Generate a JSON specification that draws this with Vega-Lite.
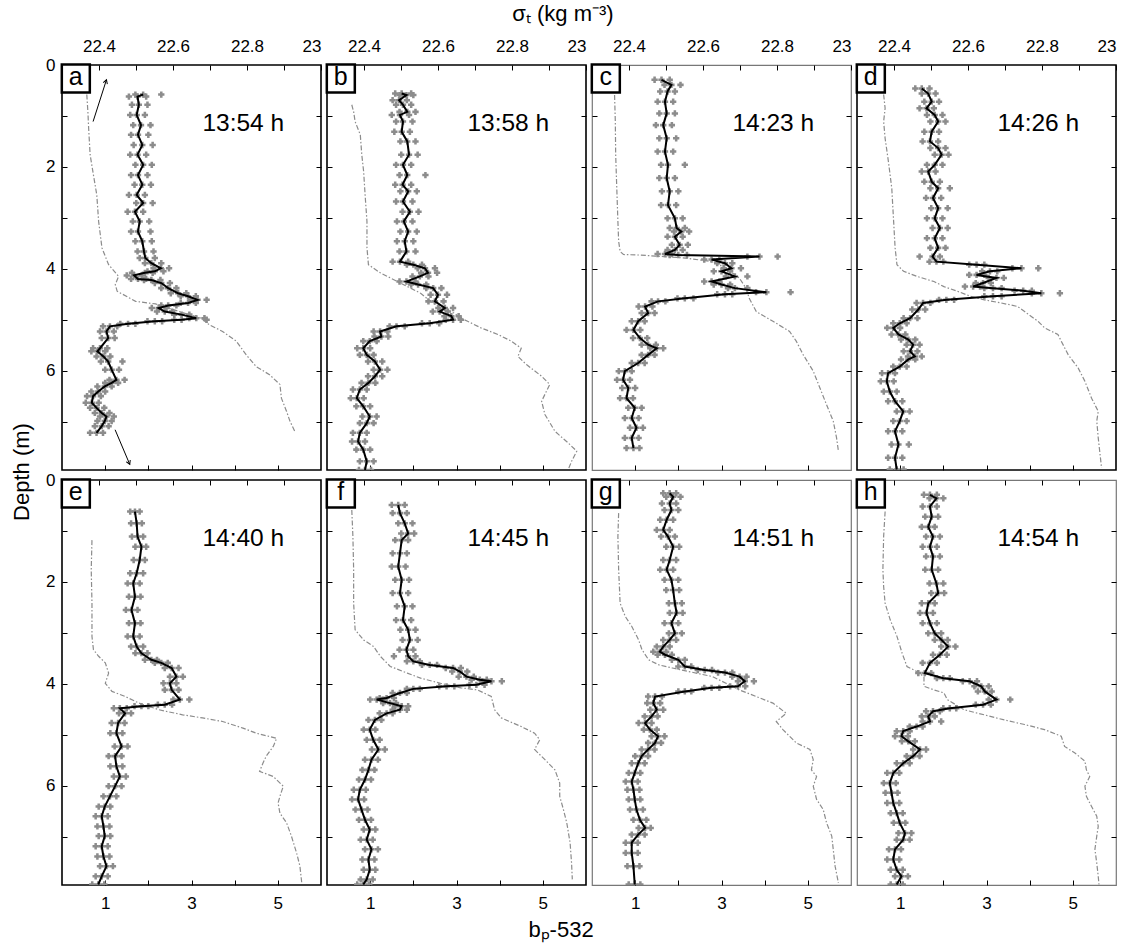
{
"$schema": "https://vega.github.io/schema/vega-lite/v6.json",
"background": "white",
"padding": {"left": 10, "top": 3, "right": 5, "bottom": 3},
"config": {
 "font": "Liberation Sans",
 "axis": {"tickSize": -5, "tickColor": "black", "tickWidth": 1, "domain": false, "grid": false, "labelFont": "Liberation Sans", "labelFontSize": 17, "labelColor": "black", "labelPadding": 13, "labelOverlap": false},
 "title": {"font": "Liberation Sans", "fontSize": 22, "fontWeight": "normal", "color": "black"},
 "view": {"stroke": "black", "strokeWidth": 1.6}
},
"datasets": {
 "lab": [{"p":"a","t":"13:54 h"},{"p":"b","t":"13:58 h"},{"p":"c","t":"14:23 h"},{"p":"d","t":"14:26 h"},{"p":"e","t":"14:40 h"},{"p":"f","t":"14:45 h"},{"p":"g","t":"14:51 h"},{"p":"h","t":"14:54 h"}],
 "arr": [{"x1":0.72,"y1":1.11,"x2":1.03,"y2":0.29,"ang":18},{"x1":1.23,"y1":7.16,"x2":1.57,"y2":7.84,"ang":157}],
 "bp": [
{"p":"a","d":0.58,"b":1.88,"l":1.70,"h":2.30},{"p":"a","d":0.62,"b":1.75,"l":1.55,"h":1.95},{"p":"a","d":0.78,"b":1.78,"l":1.62,"h":1.98},{"p":"a","d":0.98,"b":1.73,"l":1.58,"h":1.92},{"p":"a","d":1.18,"b":1.83,"l":1.65,"h":2.05},{"p":"a","d":1.37,"b":1.76,"l":1.60,"h":2.00},{"p":"a","d":1.57,"b":1.86,"l":1.66,"h":2.10},{"p":"a","d":1.76,"b":1.75,"l":1.58,"h":1.95},{"p":"a","d":1.96,"b":1.88,"l":1.70,"h":2.08},{"p":"a","d":2.16,"b":1.76,"l":1.60,"h":1.98},{"p":"a","d":2.35,"b":1.86,"l":1.68,"h":2.06},{"p":"a","d":2.55,"b":1.73,"l":1.55,"h":1.92},{"p":"a","d":2.71,"b":1.88,"l":1.72,"h":2.10},{"p":"a","d":2.88,"b":1.69,"l":1.52,"h":1.88},{"p":"a","d":3.07,"b":1.80,"l":1.64,"h":2.02},{"p":"a","d":3.27,"b":1.76,"l":1.60,"h":2.05},{"p":"a","d":3.46,"b":1.86,"l":1.70,"h":2.08},{"p":"a","d":3.66,"b":1.90,"l":1.75,"h":2.12},{"p":"a","d":3.79,"b":1.93,"l":1.80,"h":2.15},{"p":"a","d":3.89,"b":2.07,"l":1.92,"h":2.30},{"p":"a","d":3.99,"b":2.29,"l":2.12,"h":2.48},{"p":"a","d":4.05,"b":2.15,"l":1.98,"h":2.35},{"p":"a","d":4.08,"b":1.92,"l":1.62,"h":2.10},{"p":"a","d":4.13,"b":1.67,"l":1.50,"h":1.85},{"p":"a","d":4.20,"b":1.76,"l":1.60,"h":1.95},{"p":"a","d":4.22,"b":2.07,"l":1.90,"h":2.28},{"p":"a","d":4.28,"b":2.30,"l":2.15,"h":2.50},{"p":"a","d":4.38,"b":2.46,"l":2.30,"h":2.65},{"p":"a","d":4.48,"b":2.69,"l":2.52,"h":2.88},{"p":"a","d":4.54,"b":2.92,"l":2.75,"h":3.10},{"p":"a","d":4.61,"b":3.14,"l":2.98,"h":3.35},{"p":"a","d":4.67,"b":2.92,"l":2.75,"h":3.10},{"p":"a","d":4.72,"b":2.46,"l":2.30,"h":2.65},{"p":"a","d":4.77,"b":2.24,"l":2.08,"h":2.42},{"p":"a","d":4.84,"b":2.38,"l":2.20,"h":2.55},{"p":"a","d":4.90,"b":2.77,"l":2.60,"h":2.95},{"p":"a","d":4.97,"b":3.11,"l":2.95,"h":3.30},{"p":"a","d":5.00,"b":2.77,"l":2.60,"h":3.35},{"p":"a","d":5.03,"b":2.15,"l":1.98,"h":2.32},{"p":"a","d":5.08,"b":1.53,"l":1.35,"h":1.70},{"p":"a","d":5.13,"b":1.11,"l":0.95,"h":1.28},{"p":"a","d":5.23,"b":1.03,"l":0.88,"h":1.20},{"p":"a","d":5.36,"b":1.07,"l":0.92,"h":1.22},{"p":"a","d":5.56,"b":0.88,"l":0.72,"h":1.05},{"p":"a","d":5.62,"b":0.82,"l":0.68,"h":1.00},{"p":"a","d":5.72,"b":0.96,"l":0.80,"h":1.12},{"p":"a","d":5.82,"b":1.07,"l":0.90,"h":1.40},{"p":"a","d":5.98,"b":1.15,"l":1.00,"h":1.32},{"p":"a","d":6.18,"b":1.26,"l":1.10,"h":1.45},{"p":"a","d":6.24,"b":1.15,"l":1.00,"h":1.30},{"p":"a","d":6.31,"b":0.99,"l":0.82,"h":1.15},{"p":"a","d":6.41,"b":0.84,"l":0.68,"h":1.00},{"p":"a","d":6.50,"b":0.72,"l":0.58,"h":0.90},{"p":"a","d":6.63,"b":0.69,"l":0.55,"h":0.85},{"p":"a","d":6.73,"b":0.80,"l":0.65,"h":0.98},{"p":"a","d":6.83,"b":0.92,"l":0.76,"h":1.10},{"p":"a","d":6.90,"b":1.03,"l":0.88,"h":1.20},{"p":"a","d":6.99,"b":0.99,"l":0.82,"h":1.15},{"p":"a","d":7.09,"b":0.92,"l":0.76,"h":1.08},{"p":"a","d":7.22,"b":0.80,"l":0.65,"h":0.95},
{"p":"b","d":0.56,"b":1.73,"l":1.58,"h":1.95},{"p":"b","d":0.59,"b":1.84,"l":1.68,"h":2.00},{"p":"b","d":0.69,"b":1.67,"l":1.52,"h":1.85},{"p":"b","d":0.78,"b":1.76,"l":1.60,"h":1.95},{"p":"b","d":0.92,"b":1.86,"l":1.68,"h":2.05},{"p":"b","d":0.98,"b":1.69,"l":1.50,"h":1.90},{"p":"b","d":1.11,"b":1.76,"l":1.60,"h":1.98},{"p":"b","d":1.31,"b":1.73,"l":1.56,"h":1.92},{"p":"b","d":1.50,"b":1.86,"l":1.70,"h":2.05},{"p":"b","d":1.76,"b":1.90,"l":1.72,"h":2.10},{"p":"b","d":1.96,"b":1.76,"l":1.60,"h":1.95},{"p":"b","d":2.16,"b":1.86,"l":1.68,"h":2.28},{"p":"b","d":2.35,"b":1.75,"l":1.58,"h":1.95},{"p":"b","d":2.48,"b":1.88,"l":1.70,"h":2.08},{"p":"b","d":2.68,"b":1.76,"l":1.60,"h":1.98},{"p":"b","d":2.88,"b":1.92,"l":1.75,"h":2.12},{"p":"b","d":3.07,"b":1.78,"l":1.62,"h":1.98},{"p":"b","d":3.27,"b":1.88,"l":1.70,"h":2.08},{"p":"b","d":3.46,"b":1.80,"l":1.62,"h":2.00},{"p":"b","d":3.66,"b":1.84,"l":1.68,"h":2.05},{"p":"b","d":3.86,"b":1.69,"l":1.52,"h":1.88},{"p":"b","d":3.92,"b":2.00,"l":1.85,"h":2.20},{"p":"b","d":3.99,"b":2.27,"l":2.10,"h":2.50},{"p":"b","d":4.08,"b":2.34,"l":2.18,"h":2.55},{"p":"b","d":4.15,"b":2.15,"l":1.98,"h":2.35},{"p":"b","d":4.25,"b":1.84,"l":1.68,"h":2.05},{"p":"b","d":4.31,"b":2.11,"l":1.95,"h":2.30},{"p":"b","d":4.38,"b":2.46,"l":2.30,"h":2.65},{"p":"b","d":4.51,"b":2.57,"l":2.40,"h":2.78},{"p":"b","d":4.64,"b":2.50,"l":2.35,"h":2.70},{"p":"b","d":4.77,"b":2.73,"l":2.58,"h":2.92},{"p":"b","d":4.84,"b":2.61,"l":2.45,"h":2.80},{"p":"b","d":4.93,"b":2.88,"l":2.72,"h":3.05},{"p":"b","d":5.00,"b":2.92,"l":2.75,"h":3.10},{"p":"b","d":5.07,"b":2.38,"l":2.20,"h":2.60},{"p":"b","d":5.13,"b":1.61,"l":1.45,"h":1.80},{"p":"b","d":5.23,"b":1.23,"l":1.08,"h":1.40},{"p":"b","d":5.33,"b":1.26,"l":1.10,"h":1.42},{"p":"b","d":5.42,"b":0.99,"l":0.84,"h":1.15},{"p":"b","d":5.56,"b":0.84,"l":0.70,"h":1.00},{"p":"b","d":5.69,"b":0.92,"l":0.76,"h":1.08},{"p":"b","d":5.82,"b":1.11,"l":0.95,"h":1.28},{"p":"b","d":5.98,"b":1.23,"l":1.08,"h":1.40},{"p":"b","d":6.11,"b":1.11,"l":0.95,"h":1.28},{"p":"b","d":6.24,"b":0.96,"l":0.80,"h":1.12},{"p":"b","d":6.37,"b":0.76,"l":0.60,"h":0.92},{"p":"b","d":6.54,"b":0.69,"l":0.55,"h":0.85},{"p":"b","d":6.70,"b":0.84,"l":0.68,"h":1.00},{"p":"b","d":6.90,"b":0.99,"l":0.82,"h":1.15},{"p":"b","d":7.03,"b":0.92,"l":0.76,"h":1.08},{"p":"b","d":7.22,"b":0.76,"l":0.60,"h":0.92},{"p":"b","d":7.39,"b":0.72,"l":0.58,"h":0.88},{"p":"b","d":7.55,"b":0.84,"l":0.68,"h":1.00},{"p":"b","d":7.78,"b":0.92,"l":0.76,"h":1.08},{"p":"b","d":7.95,"b":0.88,"l":0.74,"h":1.02},
{"p":"c","d":0.29,"b":1.61,"l":1.45,"h":1.80},{"p":"c","d":0.39,"b":1.84,"l":1.68,"h":2.05},{"p":"c","d":0.52,"b":1.75,"l":1.58,"h":1.92},{"p":"c","d":0.72,"b":1.69,"l":1.52,"h":1.88},{"p":"c","d":0.95,"b":1.73,"l":1.56,"h":1.92},{"p":"c","d":1.18,"b":1.65,"l":1.48,"h":1.85},{"p":"c","d":1.44,"b":1.73,"l":1.56,"h":1.95},{"p":"c","d":1.70,"b":1.69,"l":1.52,"h":1.88},{"p":"c","d":1.96,"b":1.76,"l":1.60,"h":2.15},{"p":"c","d":2.22,"b":1.73,"l":1.56,"h":1.92},{"p":"c","d":2.48,"b":1.80,"l":1.62,"h":2.00},{"p":"c","d":2.75,"b":1.76,"l":1.60,"h":1.95},{"p":"c","d":3.01,"b":1.92,"l":1.75,"h":2.10},{"p":"c","d":3.20,"b":1.96,"l":1.80,"h":2.15},{"p":"c","d":3.27,"b":2.07,"l":1.90,"h":2.25},{"p":"c","d":3.37,"b":1.92,"l":1.75,"h":2.10},{"p":"c","d":3.53,"b":2.03,"l":1.85,"h":2.22},{"p":"c","d":3.63,"b":1.92,"l":1.75,"h":2.10},{"p":"c","d":3.71,"b":1.69,"l":1.52,"h":1.85},{"p":"c","d":3.73,"b":2.00,"l":1.80,"h":2.20},{"p":"c","d":3.76,"b":3.88,"l":3.60,"h":4.30},{"p":"c","d":3.82,"b":2.77,"l":2.60,"h":2.95},{"p":"c","d":3.89,"b":3.08,"l":2.90,"h":3.25},{"p":"c","d":3.99,"b":3.23,"l":3.05,"h":3.45},{"p":"c","d":4.05,"b":3.00,"l":2.82,"h":3.20},{"p":"c","d":4.15,"b":3.31,"l":3.10,"h":3.60},{"p":"c","d":4.25,"b":2.77,"l":2.60,"h":2.95},{"p":"c","d":4.31,"b":3.00,"l":2.82,"h":3.20},{"p":"c","d":4.38,"b":3.31,"l":3.15,"h":3.60},{"p":"c","d":4.46,"b":4.04,"l":3.80,"h":4.60},{"p":"c","d":4.50,"b":3.08,"l":2.90,"h":3.25},{"p":"c","d":4.58,"b":2.15,"l":1.98,"h":2.35},{"p":"c","d":4.64,"b":1.53,"l":1.38,"h":1.70},{"p":"c","d":4.74,"b":1.23,"l":1.08,"h":1.40},{"p":"c","d":4.87,"b":1.30,"l":1.15,"h":1.45},{"p":"c","d":5.03,"b":1.07,"l":0.92,"h":1.22},{"p":"c","d":5.20,"b":0.96,"l":0.80,"h":1.12},{"p":"c","d":5.36,"b":1.11,"l":0.95,"h":1.28},{"p":"c","d":5.49,"b":1.30,"l":1.15,"h":1.48},{"p":"c","d":5.56,"b":1.50,"l":1.35,"h":1.65},{"p":"c","d":5.69,"b":1.30,"l":1.15,"h":1.45},{"p":"c","d":5.85,"b":1.07,"l":0.92,"h":1.22},{"p":"c","d":6.01,"b":0.76,"l":0.62,"h":0.92},{"p":"c","d":6.18,"b":0.72,"l":0.58,"h":0.88},{"p":"c","d":6.34,"b":0.84,"l":0.70,"h":1.00},{"p":"c","d":6.54,"b":0.80,"l":0.65,"h":0.95},{"p":"c","d":6.73,"b":0.99,"l":0.84,"h":1.15},{"p":"c","d":6.93,"b":0.92,"l":0.76,"h":1.08},{"p":"c","d":7.12,"b":1.03,"l":0.88,"h":1.18},{"p":"c","d":7.32,"b":0.92,"l":0.76,"h":1.08},{"p":"c","d":7.52,"b":0.96,"l":0.80,"h":1.10},
{"p":"d","d":0.46,"b":1.50,"l":1.35,"h":1.68},{"p":"d","d":0.56,"b":1.65,"l":1.50,"h":1.82},{"p":"d","d":0.72,"b":1.73,"l":1.56,"h":1.90},{"p":"d","d":0.85,"b":1.61,"l":1.45,"h":1.78},{"p":"d","d":0.98,"b":1.80,"l":1.62,"h":1.98},{"p":"d","d":1.11,"b":1.88,"l":1.70,"h":2.05},{"p":"d","d":1.31,"b":1.73,"l":1.56,"h":1.90},{"p":"d","d":1.50,"b":1.69,"l":1.52,"h":1.88},{"p":"d","d":1.63,"b":1.88,"l":1.70,"h":2.05},{"p":"d","d":1.76,"b":1.96,"l":1.80,"h":2.12},{"p":"d","d":1.96,"b":1.80,"l":1.62,"h":1.98},{"p":"d","d":2.09,"b":1.65,"l":1.50,"h":1.82},{"p":"d","d":2.29,"b":1.73,"l":1.56,"h":1.92},{"p":"d","d":2.42,"b":1.88,"l":1.70,"h":2.15},{"p":"d","d":2.61,"b":1.76,"l":1.60,"h":1.95},{"p":"d","d":2.81,"b":1.88,"l":1.72,"h":2.10},{"p":"d","d":3.01,"b":1.80,"l":1.62,"h":1.98},{"p":"d","d":3.20,"b":1.92,"l":1.75,"h":2.10},{"p":"d","d":3.40,"b":1.80,"l":1.62,"h":1.98},{"p":"d","d":3.59,"b":1.88,"l":1.70,"h":2.05},{"p":"d","d":3.76,"b":1.75,"l":1.45,"h":1.92},{"p":"d","d":3.86,"b":1.84,"l":1.68,"h":2.00},{"p":"d","d":3.92,"b":2.77,"l":2.60,"h":2.95},{"p":"d","d":3.99,"b":3.81,"l":3.60,"h":4.20},{"p":"d","d":4.05,"b":3.08,"l":2.90,"h":3.25},{"p":"d","d":4.12,"b":2.77,"l":2.60,"h":2.95},{"p":"d","d":4.18,"b":3.23,"l":3.05,"h":3.40},{"p":"d","d":4.28,"b":2.92,"l":2.75,"h":3.10},{"p":"d","d":4.35,"b":2.69,"l":2.50,"h":2.85},{"p":"d","d":4.38,"b":3.15,"l":2.95,"h":3.35},{"p":"d","d":4.43,"b":3.85,"l":3.65,"h":4.05},{"p":"d","d":4.48,"b":4.27,"l":4.05,"h":4.70},{"p":"d","d":4.54,"b":3.15,"l":2.95,"h":3.35},{"p":"d","d":4.61,"b":2.07,"l":1.90,"h":2.25},{"p":"d","d":4.67,"b":1.53,"l":1.38,"h":1.70},{"p":"d","d":4.80,"b":1.42,"l":1.28,"h":1.58},{"p":"d","d":4.97,"b":1.23,"l":1.08,"h":1.40},{"p":"d","d":5.07,"b":0.99,"l":0.84,"h":1.15},{"p":"d","d":5.16,"b":0.84,"l":0.70,"h":1.00},{"p":"d","d":5.29,"b":0.96,"l":0.80,"h":1.12},{"p":"d","d":5.39,"b":1.19,"l":1.02,"h":1.35},{"p":"d","d":5.49,"b":1.30,"l":1.15,"h":1.45},{"p":"d","d":5.62,"b":1.23,"l":1.08,"h":1.40},{"p":"d","d":5.72,"b":1.34,"l":1.18,"h":1.50},{"p":"d","d":5.78,"b":1.19,"l":1.02,"h":1.35},{"p":"d","d":5.92,"b":0.99,"l":0.84,"h":1.15},{"p":"d","d":6.05,"b":0.72,"l":0.58,"h":0.88},{"p":"d","d":6.21,"b":0.69,"l":0.55,"h":0.85},{"p":"d","d":6.41,"b":0.76,"l":0.62,"h":0.92},{"p":"d","d":6.60,"b":0.88,"l":0.72,"h":1.05},{"p":"d","d":6.80,"b":1.07,"l":0.92,"h":1.22},{"p":"d","d":6.99,"b":0.99,"l":0.84,"h":1.15},{"p":"d","d":7.19,"b":0.88,"l":0.72,"h":1.05},{"p":"d","d":7.45,"b":0.96,"l":0.80,"h":1.20},{"p":"d","d":7.71,"b":0.88,"l":0.72,"h":1.05},{"p":"d","d":7.94,"b":0.92,"l":0.76,"h":1.08},
{"p":"e","d":0.62,"b":1.69,"l":1.58,"h":1.80},{"p":"e","d":0.85,"b":1.73,"l":1.60,"h":1.85},{"p":"e","d":1.11,"b":1.75,"l":1.62,"h":1.88},{"p":"e","d":1.31,"b":1.84,"l":1.70,"h":1.95},{"p":"e","d":1.57,"b":1.80,"l":1.66,"h":1.92},{"p":"e","d":1.83,"b":1.73,"l":1.58,"h":1.88},{"p":"e","d":2.03,"b":1.65,"l":1.52,"h":1.80},{"p":"e","d":2.29,"b":1.69,"l":1.55,"h":1.82},{"p":"e","d":2.55,"b":1.61,"l":1.48,"h":1.75},{"p":"e","d":2.81,"b":1.69,"l":1.55,"h":1.82},{"p":"e","d":3.07,"b":1.65,"l":1.52,"h":1.80},{"p":"e","d":3.27,"b":1.73,"l":1.60,"h":1.88},{"p":"e","d":3.40,"b":1.84,"l":1.70,"h":1.98},{"p":"e","d":3.53,"b":2.07,"l":1.92,"h":2.20},{"p":"e","d":3.59,"b":2.30,"l":2.15,"h":2.45},{"p":"e","d":3.69,"b":2.54,"l":2.38,"h":2.70},{"p":"e","d":3.86,"b":2.65,"l":2.50,"h":2.80},{"p":"e","d":3.99,"b":2.50,"l":2.35,"h":2.65},{"p":"e","d":4.12,"b":2.54,"l":2.38,"h":2.70},{"p":"e","d":4.31,"b":2.73,"l":2.58,"h":2.95},{"p":"e","d":4.41,"b":2.38,"l":2.22,"h":2.55},{"p":"e","d":4.44,"b":1.84,"l":1.68,"h":2.00},{"p":"e","d":4.48,"b":1.34,"l":1.20,"h":1.50},{"p":"e","d":4.58,"b":1.46,"l":1.32,"h":1.60},{"p":"e","d":4.77,"b":1.30,"l":1.15,"h":1.45},{"p":"e","d":4.97,"b":1.26,"l":1.12,"h":1.40},{"p":"e","d":5.23,"b":1.38,"l":1.22,"h":1.52},{"p":"e","d":5.42,"b":1.23,"l":1.08,"h":1.38},{"p":"e","d":5.62,"b":1.26,"l":1.12,"h":1.40},{"p":"e","d":5.82,"b":1.34,"l":1.20,"h":1.48},{"p":"e","d":6.01,"b":1.23,"l":1.08,"h":1.38},{"p":"e","d":6.21,"b":1.11,"l":0.96,"h":1.26},{"p":"e","d":6.41,"b":0.99,"l":0.85,"h":1.12},{"p":"e","d":6.60,"b":0.92,"l":0.78,"h":1.06},{"p":"e","d":6.80,"b":0.96,"l":0.82,"h":1.10},{"p":"e","d":6.99,"b":0.99,"l":0.85,"h":1.12},{"p":"e","d":7.19,"b":0.92,"l":0.78,"h":1.06},{"p":"e","d":7.39,"b":0.96,"l":0.82,"h":1.10},{"p":"e","d":7.58,"b":1.03,"l":0.88,"h":1.18},{"p":"e","d":7.78,"b":0.92,"l":0.78,"h":1.06},{"p":"e","d":7.94,"b":0.84,"l":0.70,"h":0.98},
{"p":"f","d":0.49,"b":1.65,"l":1.50,"h":1.80},{"p":"f","d":0.65,"b":1.69,"l":1.52,"h":1.85},{"p":"f","d":0.85,"b":1.80,"l":1.65,"h":1.98},{"p":"f","d":1.05,"b":1.88,"l":1.72,"h":2.02},{"p":"f","d":1.18,"b":1.73,"l":1.58,"h":1.88},{"p":"f","d":1.44,"b":1.69,"l":1.52,"h":1.85},{"p":"f","d":1.70,"b":1.65,"l":1.50,"h":1.82},{"p":"f","d":1.96,"b":1.73,"l":1.58,"h":1.90},{"p":"f","d":2.22,"b":1.69,"l":1.52,"h":1.88},{"p":"f","d":2.48,"b":1.80,"l":1.62,"h":1.98},{"p":"f","d":2.75,"b":1.76,"l":1.60,"h":1.95},{"p":"f","d":2.94,"b":1.88,"l":1.70,"h":2.05},{"p":"f","d":3.14,"b":1.92,"l":1.75,"h":2.10},{"p":"f","d":3.33,"b":1.84,"l":1.68,"h":2.00},{"p":"f","d":3.46,"b":1.88,"l":1.55,"h":2.05},{"p":"f","d":3.56,"b":2.00,"l":1.85,"h":2.15},{"p":"f","d":3.63,"b":2.38,"l":2.20,"h":2.55},{"p":"f","d":3.69,"b":2.92,"l":2.75,"h":3.10},{"p":"f","d":3.76,"b":3.08,"l":2.90,"h":3.25},{"p":"f","d":3.86,"b":3.23,"l":3.05,"h":3.40},{"p":"f","d":3.92,"b":3.54,"l":3.35,"h":3.70},{"p":"f","d":3.95,"b":3.81,"l":3.60,"h":4.05},{"p":"f","d":4.02,"b":3.46,"l":3.30,"h":3.65},{"p":"f","d":4.05,"b":2.77,"l":2.60,"h":2.95},{"p":"f","d":4.10,"b":2.00,"l":1.85,"h":2.15},{"p":"f","d":4.18,"b":1.69,"l":1.52,"h":1.85},{"p":"f","d":4.28,"b":1.38,"l":1.22,"h":1.55},{"p":"f","d":4.31,"b":1.15,"l":1.00,"h":1.30},{"p":"f","d":4.38,"b":1.46,"l":1.30,"h":1.60},{"p":"f","d":4.44,"b":1.73,"l":1.58,"h":1.88},{"p":"f","d":4.51,"b":1.69,"l":1.52,"h":1.85},{"p":"f","d":4.58,"b":1.38,"l":1.22,"h":1.52},{"p":"f","d":4.71,"b":1.11,"l":0.96,"h":1.26},{"p":"f","d":4.90,"b":0.99,"l":0.85,"h":1.12},{"p":"f","d":5.10,"b":1.07,"l":0.92,"h":1.22},{"p":"f","d":5.29,"b":1.19,"l":1.04,"h":1.34},{"p":"f","d":5.49,"b":1.03,"l":0.88,"h":1.18},{"p":"f","d":5.69,"b":0.96,"l":0.82,"h":1.10},{"p":"f","d":5.88,"b":0.88,"l":0.74,"h":1.02},{"p":"f","d":6.08,"b":0.76,"l":0.62,"h":0.90},{"p":"f","d":6.27,"b":0.72,"l":0.58,"h":0.86},{"p":"f","d":6.47,"b":0.80,"l":0.66,"h":0.94},{"p":"f","d":6.67,"b":0.88,"l":0.74,"h":1.02},{"p":"f","d":6.86,"b":0.99,"l":0.85,"h":1.12},{"p":"f","d":7.06,"b":0.92,"l":0.78,"h":1.06},{"p":"f","d":7.25,"b":1.03,"l":0.88,"h":1.18},{"p":"f","d":7.45,"b":0.96,"l":0.82,"h":1.10},{"p":"f","d":7.65,"b":0.99,"l":0.85,"h":1.12},{"p":"f","d":7.84,"b":0.92,"l":0.78,"h":1.06},{"p":"f","d":7.94,"b":0.84,"l":0.70,"h":0.98},
{"p":"g","d":0.26,"b":1.80,"l":1.65,"h":1.95},{"p":"g","d":0.33,"b":1.88,"l":1.72,"h":2.05},{"p":"g","d":0.46,"b":1.80,"l":1.62,"h":1.95},{"p":"g","d":0.59,"b":1.84,"l":1.68,"h":2.00},{"p":"g","d":0.78,"b":1.73,"l":1.58,"h":1.88},{"p":"g","d":0.98,"b":1.65,"l":1.50,"h":1.80},{"p":"g","d":1.11,"b":1.76,"l":1.60,"h":1.92},{"p":"g","d":1.31,"b":1.88,"l":1.72,"h":2.02},{"p":"g","d":1.57,"b":1.80,"l":1.65,"h":1.95},{"p":"g","d":1.76,"b":1.73,"l":1.58,"h":1.88},{"p":"g","d":1.96,"b":1.84,"l":1.68,"h":2.00},{"p":"g","d":2.16,"b":1.88,"l":1.72,"h":2.02},{"p":"g","d":2.42,"b":1.92,"l":1.78,"h":2.08},{"p":"g","d":2.61,"b":1.96,"l":1.80,"h":2.10},{"p":"g","d":2.81,"b":1.84,"l":1.68,"h":2.00},{"p":"g","d":3.01,"b":1.92,"l":1.78,"h":2.08},{"p":"g","d":3.14,"b":1.80,"l":1.65,"h":1.95},{"p":"g","d":3.27,"b":1.65,"l":1.50,"h":1.80},{"p":"g","d":3.37,"b":1.57,"l":1.42,"h":1.72},{"p":"g","d":3.43,"b":1.69,"l":1.52,"h":1.85},{"p":"g","d":3.53,"b":2.00,"l":1.85,"h":2.15},{"p":"g","d":3.66,"b":2.15,"l":2.00,"h":2.30},{"p":"g","d":3.73,"b":2.61,"l":2.45,"h":2.78},{"p":"g","d":3.78,"b":3.08,"l":2.92,"h":3.25},{"p":"g","d":3.86,"b":3.42,"l":3.25,"h":3.58},{"p":"g","d":3.95,"b":3.54,"l":3.38,"h":3.75},{"p":"g","d":4.05,"b":3.38,"l":3.20,"h":3.55},{"p":"g","d":4.08,"b":2.77,"l":2.60,"h":2.95},{"p":"g","d":4.15,"b":2.15,"l":2.00,"h":2.30},{"p":"g","d":4.25,"b":1.46,"l":1.30,"h":1.62},{"p":"g","d":4.38,"b":1.42,"l":1.28,"h":1.58},{"p":"g","d":4.51,"b":1.50,"l":1.35,"h":1.65},{"p":"g","d":4.64,"b":1.38,"l":1.22,"h":1.52},{"p":"g","d":4.77,"b":1.23,"l":1.08,"h":1.38},{"p":"g","d":4.90,"b":1.34,"l":1.20,"h":1.50},{"p":"g","d":5.03,"b":1.53,"l":1.38,"h":1.68},{"p":"g","d":5.16,"b":1.46,"l":1.30,"h":1.60},{"p":"g","d":5.29,"b":1.30,"l":1.15,"h":1.45},{"p":"g","d":5.42,"b":1.15,"l":1.00,"h":1.30},{"p":"g","d":5.56,"b":1.07,"l":0.92,"h":1.22},{"p":"g","d":5.75,"b":0.99,"l":0.85,"h":1.12},{"p":"g","d":5.92,"b":0.92,"l":0.78,"h":1.06},{"p":"g","d":6.08,"b":0.96,"l":0.82,"h":1.10},{"p":"g","d":6.27,"b":0.99,"l":0.85,"h":1.12},{"p":"g","d":6.47,"b":1.03,"l":0.88,"h":1.18},{"p":"g","d":6.67,"b":1.11,"l":0.96,"h":1.26},{"p":"g","d":6.83,"b":1.23,"l":1.08,"h":1.36},{"p":"g","d":6.96,"b":1.07,"l":0.92,"h":1.22},{"p":"g","d":7.12,"b":0.92,"l":0.78,"h":1.06},{"p":"g","d":7.32,"b":0.92,"l":0.78,"h":1.06},{"p":"g","d":7.58,"b":0.96,"l":0.82,"h":1.10},{"p":"g","d":7.94,"b":0.99,"l":0.85,"h":1.12},
{"p":"h","d":0.29,"b":1.69,"l":1.55,"h":1.85},{"p":"h","d":0.36,"b":1.84,"l":1.68,"h":2.00},{"p":"h","d":0.52,"b":1.69,"l":1.52,"h":1.85},{"p":"h","d":0.72,"b":1.73,"l":1.58,"h":1.88},{"p":"h","d":0.92,"b":1.65,"l":1.50,"h":1.80},{"p":"h","d":1.11,"b":1.76,"l":1.60,"h":1.92},{"p":"h","d":1.31,"b":1.69,"l":1.52,"h":1.85},{"p":"h","d":1.50,"b":1.76,"l":1.60,"h":1.92},{"p":"h","d":1.76,"b":1.73,"l":1.58,"h":1.88},{"p":"h","d":2.03,"b":1.84,"l":1.68,"h":2.00},{"p":"h","d":2.22,"b":1.88,"l":1.72,"h":2.02},{"p":"h","d":2.42,"b":1.65,"l":1.50,"h":1.80},{"p":"h","d":2.61,"b":1.61,"l":1.46,"h":1.76},{"p":"h","d":2.81,"b":1.69,"l":1.52,"h":1.85},{"p":"h","d":3.01,"b":1.80,"l":1.65,"h":1.95},{"p":"h","d":3.14,"b":1.96,"l":1.80,"h":2.10},{"p":"h","d":3.27,"b":2.11,"l":1.95,"h":2.28},{"p":"h","d":3.43,"b":1.92,"l":1.76,"h":2.08},{"p":"h","d":3.59,"b":1.69,"l":1.52,"h":1.85},{"p":"h","d":3.79,"b":1.57,"l":1.42,"h":1.72},{"p":"h","d":3.89,"b":2.00,"l":1.85,"h":2.15},{"p":"h","d":3.95,"b":2.61,"l":2.45,"h":2.78},{"p":"h","d":4.05,"b":2.88,"l":2.72,"h":3.05},{"p":"h","d":4.15,"b":2.96,"l":2.80,"h":3.12},{"p":"h","d":4.31,"b":3.23,"l":3.05,"h":3.55},{"p":"h","d":4.41,"b":2.92,"l":2.75,"h":3.10},{"p":"h","d":4.48,"b":2.15,"l":2.00,"h":2.30},{"p":"h","d":4.54,"b":1.76,"l":1.60,"h":1.92},{"p":"h","d":4.64,"b":1.65,"l":1.50,"h":1.80},{"p":"h","d":4.74,"b":1.69,"l":1.52,"h":1.95},{"p":"h","d":4.84,"b":1.38,"l":1.22,"h":1.52},{"p":"h","d":4.93,"b":1.07,"l":0.92,"h":1.22},{"p":"h","d":5.03,"b":1.03,"l":0.88,"h":1.18},{"p":"h","d":5.13,"b":1.19,"l":1.04,"h":1.34},{"p":"h","d":5.29,"b":1.46,"l":1.30,"h":1.60},{"p":"h","d":5.42,"b":1.30,"l":1.15,"h":1.45},{"p":"h","d":5.56,"b":1.07,"l":0.92,"h":1.22},{"p":"h","d":5.75,"b":0.84,"l":0.70,"h":0.98},{"p":"h","d":5.95,"b":0.76,"l":0.62,"h":0.90},{"p":"h","d":6.14,"b":0.80,"l":0.66,"h":0.94},{"p":"h","d":6.34,"b":0.84,"l":0.70,"h":0.98},{"p":"h","d":6.54,"b":0.92,"l":0.78,"h":1.06},{"p":"h","d":6.73,"b":0.99,"l":0.85,"h":1.12},{"p":"h","d":6.93,"b":1.11,"l":0.96,"h":1.26},{"p":"h","d":7.06,"b":1.07,"l":0.92,"h":1.22},{"p":"h","d":7.25,"b":0.88,"l":0.74,"h":1.02},{"p":"h","d":7.45,"b":0.84,"l":0.70,"h":0.98},{"p":"h","d":7.65,"b":0.92,"l":0.78,"h":1.06},{"p":"h","d":7.78,"b":1.03,"l":0.88,"h":1.18},{"p":"h","d":7.94,"b":0.92,"l":0.78,"h":1.06}
 ],
 "sg": [
{"p":"a","d":0.58,"s":22.367},{"p":"a","d":0.92,"s":22.370},{"p":"a","d":1.24,"s":22.372},{"p":"a","d":1.76,"s":22.376},{"p":"a","d":2.16,"s":22.385},{"p":"a","d":2.55,"s":22.394},{"p":"a","d":3.07,"s":22.399},{"p":"a","d":3.59,"s":22.408},{"p":"a","d":3.92,"s":22.426},{"p":"a","d":4.15,"s":22.453},{"p":"a","d":4.31,"s":22.444},{"p":"a","d":4.44,"s":22.449},{"p":"a","d":4.64,"s":22.499},{"p":"a","d":4.69,"s":22.553},{"p":"a","d":4.84,"s":22.617},{"p":"a","d":4.97,"s":22.676},{"p":"a","d":5.10,"s":22.698},{"p":"a","d":5.23,"s":22.734},{"p":"a","d":5.42,"s":22.771},{"p":"a","d":5.69,"s":22.798},{"p":"a","d":5.92,"s":22.825},{"p":"a","d":6.08,"s":22.861},{"p":"a","d":6.27,"s":22.889},{"p":"a","d":6.54,"s":22.893},{"p":"a","d":6.80,"s":22.907},{"p":"a","d":6.99,"s":22.916},{"p":"a","d":7.19,"s":22.929},
{"p":"b","d":0.78,"s":22.367},{"p":"b","d":0.92,"s":22.372},{"p":"b","d":1.11,"s":22.376},{"p":"b","d":1.37,"s":22.390},{"p":"b","d":1.76,"s":22.394},{"p":"b","d":2.09,"s":22.399},{"p":"b","d":2.55,"s":22.403},{"p":"b","d":3.07,"s":22.408},{"p":"b","d":3.59,"s":22.408},{"p":"b","d":3.92,"s":22.412},{"p":"b","d":4.08,"s":22.444},{"p":"b","d":4.25,"s":22.490},{"p":"b","d":4.38,"s":22.526},{"p":"b","d":4.48,"s":22.553},{"p":"b","d":4.64,"s":22.580},{"p":"b","d":4.77,"s":22.607},{"p":"b","d":4.87,"s":22.644},{"p":"b","d":4.97,"s":22.662},{"p":"b","d":5.03,"s":22.680},{"p":"b","d":5.16,"s":22.716},{"p":"b","d":5.29,"s":22.762},{"p":"b","d":5.42,"s":22.798},{"p":"b","d":5.56,"s":22.825},{"p":"b","d":5.72,"s":22.816},{"p":"b","d":5.88,"s":22.839},{"p":"b","d":6.11,"s":22.880},{"p":"b","d":6.27,"s":22.902},{"p":"b","d":6.60,"s":22.880},{"p":"b","d":6.86,"s":22.889},{"p":"b","d":7.19,"s":22.916},{"p":"b","d":7.42,"s":22.952},{"p":"b","d":7.58,"s":22.975},{"p":"b","d":7.78,"s":22.961},{"p":"b","d":7.94,"s":22.952},
{"p":"c","d":0.59,"s":22.361},{"p":"c","d":1.11,"s":22.363},{"p":"c","d":1.76,"s":22.364},{"p":"c","d":2.42,"s":22.367},{"p":"c","d":3.07,"s":22.370},{"p":"c","d":3.46,"s":22.372},{"p":"c","d":3.66,"s":22.376},{"p":"c","d":3.72,"s":22.385},{"p":"c","d":3.73,"s":22.426},{"p":"c","d":3.75,"s":22.471},{"p":"c","d":3.79,"s":22.553},{"p":"c","d":3.86,"s":22.626},{"p":"c","d":3.99,"s":22.662},{"p":"c","d":4.18,"s":22.698},{"p":"c","d":4.38,"s":22.716},{"p":"c","d":4.58,"s":22.725},{"p":"c","d":4.84,"s":22.744},{"p":"c","d":5.03,"s":22.789},{"p":"c","d":5.23,"s":22.834},{"p":"c","d":5.42,"s":22.852},{"p":"c","d":5.69,"s":22.871},{"p":"c","d":6.01,"s":22.898},{"p":"c","d":6.34,"s":22.916},{"p":"c","d":6.67,"s":22.934},{"p":"c","d":6.99,"s":22.952},{"p":"c","d":7.32,"s":22.961},{"p":"c","d":7.58,"s":22.966},
{"p":"d","d":0.58,"s":22.372},{"p":"d","d":0.85,"s":22.376},{"p":"d","d":1.11,"s":22.372},{"p":"d","d":1.44,"s":22.376},{"p":"d","d":1.90,"s":22.385},{"p":"d","d":2.42,"s":22.394},{"p":"d","d":3.07,"s":22.399},{"p":"d","d":3.59,"s":22.403},{"p":"d","d":3.92,"s":22.408},{"p":"d","d":4.05,"s":22.426},{"p":"d","d":4.15,"s":22.462},{"p":"d","d":4.25,"s":22.508},{"p":"d","d":4.35,"s":22.535},{"p":"d","d":4.44,"s":22.571},{"p":"d","d":4.54,"s":22.607},{"p":"d","d":4.61,"s":22.644},{"p":"d","d":4.67,"s":22.689},{"p":"d","d":4.74,"s":22.734},{"p":"d","d":4.84,"s":22.753},{"p":"d","d":5.03,"s":22.789},{"p":"d","d":5.16,"s":22.807},{"p":"d","d":5.29,"s":22.843},{"p":"d","d":5.42,"s":22.852},{"p":"d","d":5.69,"s":22.871},{"p":"d","d":5.95,"s":22.898},{"p":"d","d":6.21,"s":22.916},{"p":"d","d":6.54,"s":22.934},{"p":"d","d":6.80,"s":22.952},{"p":"d","d":6.99,"s":22.948},{"p":"d","d":7.32,"s":22.952},{"p":"d","d":7.65,"s":22.957},{"p":"d","d":7.91,"s":22.961},
{"p":"e","d":1.18,"s":22.381},{"p":"e","d":1.76,"s":22.379},{"p":"e","d":2.42,"s":22.381},{"p":"e","d":3.07,"s":22.381},{"p":"e","d":3.33,"s":22.385},{"p":"e","d":3.46,"s":22.399},{"p":"e","d":3.59,"s":22.417},{"p":"e","d":3.79,"s":22.426},{"p":"e","d":3.99,"s":22.417},{"p":"e","d":4.15,"s":22.435},{"p":"e","d":4.25,"s":22.471},{"p":"e","d":4.38,"s":22.508},{"p":"e","d":4.51,"s":22.562},{"p":"e","d":4.61,"s":22.626},{"p":"e","d":4.67,"s":22.680},{"p":"e","d":4.74,"s":22.734},{"p":"e","d":4.87,"s":22.789},{"p":"e","d":4.97,"s":22.825},{"p":"e","d":5.07,"s":22.880},{"p":"e","d":5.23,"s":22.871},{"p":"e","d":5.42,"s":22.852},{"p":"e","d":5.56,"s":22.843},{"p":"e","d":5.72,"s":22.834},{"p":"e","d":5.82,"s":22.871},{"p":"e","d":6.01,"s":22.898},{"p":"e","d":6.21,"s":22.889},{"p":"e","d":6.34,"s":22.884},{"p":"e","d":6.54,"s":22.889},{"p":"e","d":6.73,"s":22.907},{"p":"e","d":6.99,"s":22.920},{"p":"e","d":7.32,"s":22.934},{"p":"e","d":7.58,"s":22.943},{"p":"e","d":7.91,"s":22.948},
{"p":"f","d":0.59,"s":22.367},{"p":"f","d":1.11,"s":22.370},{"p":"f","d":1.76,"s":22.372},{"p":"f","d":2.42,"s":22.372},{"p":"f","d":2.94,"s":22.376},{"p":"f","d":3.14,"s":22.399},{"p":"f","d":3.27,"s":22.426},{"p":"f","d":3.46,"s":22.444},{"p":"f","d":3.66,"s":22.471},{"p":"f","d":3.79,"s":22.517},{"p":"f","d":3.89,"s":22.553},{"p":"f","d":3.99,"s":22.607},{"p":"f","d":4.08,"s":22.662},{"p":"f","d":4.12,"s":22.707},{"p":"f","d":4.25,"s":22.744},{"p":"f","d":4.51,"s":22.753},{"p":"f","d":4.67,"s":22.771},{"p":"f","d":4.84,"s":22.825},{"p":"f","d":4.97,"s":22.861},{"p":"f","d":5.10,"s":22.875},{"p":"f","d":5.29,"s":22.861},{"p":"f","d":5.49,"s":22.889},{"p":"f","d":5.69,"s":22.916},{"p":"f","d":5.95,"s":22.929},{"p":"f","d":6.21,"s":22.929},{"p":"f","d":6.47,"s":22.939},{"p":"f","d":6.73,"s":22.948},{"p":"f","d":7.12,"s":22.957},{"p":"f","d":7.52,"s":22.961},{"p":"f","d":7.84,"s":22.963},
{"p":"g","d":0.65,"s":22.372},{"p":"g","d":1.11,"s":22.370},{"p":"g","d":1.76,"s":22.372},{"p":"g","d":2.42,"s":22.376},{"p":"g","d":2.68,"s":22.390},{"p":"g","d":2.88,"s":22.408},{"p":"g","d":3.14,"s":22.426},{"p":"g","d":3.33,"s":22.435},{"p":"g","d":3.53,"s":22.453},{"p":"g","d":3.63,"s":22.481},{"p":"g","d":3.69,"s":22.517},{"p":"g","d":3.76,"s":22.562},{"p":"g","d":3.86,"s":22.626},{"p":"g","d":3.99,"s":22.662},{"p":"g","d":4.12,"s":22.698},{"p":"g","d":4.25,"s":22.744},{"p":"g","d":4.38,"s":22.789},{"p":"g","d":4.58,"s":22.825},{"p":"g","d":4.74,"s":22.798},{"p":"g","d":4.90,"s":22.816},{"p":"g","d":5.03,"s":22.834},{"p":"g","d":5.16,"s":22.852},{"p":"g","d":5.29,"s":22.889},{"p":"g","d":5.49,"s":22.898},{"p":"g","d":5.69,"s":22.893},{"p":"g","d":5.82,"s":22.907},{"p":"g","d":6.01,"s":22.898},{"p":"g","d":6.27,"s":22.907},{"p":"g","d":6.47,"s":22.925},{"p":"g","d":6.73,"s":22.934},{"p":"g","d":6.99,"s":22.948},{"p":"g","d":7.25,"s":22.952},{"p":"g","d":7.58,"s":22.957},{"p":"g","d":7.91,"s":22.966},
{"p":"h","d":0.62,"s":22.376},{"p":"h","d":1.11,"s":22.372},{"p":"h","d":1.76,"s":22.370},{"p":"h","d":2.09,"s":22.372},{"p":"h","d":2.42,"s":22.376},{"p":"h","d":2.75,"s":22.390},{"p":"h","d":3.07,"s":22.408},{"p":"h","d":3.40,"s":22.422},{"p":"h","d":3.66,"s":22.435},{"p":"h","d":3.76,"s":22.462},{"p":"h","d":3.86,"s":22.481},{"p":"h","d":4.05,"s":22.481},{"p":"h","d":4.12,"s":22.508},{"p":"h","d":4.18,"s":22.535},{"p":"h","d":4.31,"s":22.544},{"p":"h","d":4.51,"s":22.589},{"p":"h","d":4.61,"s":22.644},{"p":"h","d":4.71,"s":22.698},{"p":"h","d":4.80,"s":22.753},{"p":"h","d":4.90,"s":22.807},{"p":"h","d":5.03,"s":22.852},{"p":"h","d":5.23,"s":22.861},{"p":"h","d":5.36,"s":22.889},{"p":"h","d":5.52,"s":22.916},{"p":"h","d":5.69,"s":22.920},{"p":"h","d":5.82,"s":22.929},{"p":"h","d":6.01,"s":22.916},{"p":"h","d":6.21,"s":22.920},{"p":"h","d":6.41,"s":22.934},{"p":"h","d":6.60,"s":22.948},{"p":"h","d":6.80,"s":22.952},{"p":"h","d":6.99,"s":22.948},{"p":"h","d":7.25,"s":22.943},{"p":"h","d":7.52,"s":22.948},{"p":"h","d":7.78,"s":22.952},{"p":"h","d":7.94,"s":22.954}
 ]
},
"title": {"text": "Depth (m)", "orient": "left", "anchor": "middle", "offset": 11},
"vconcat": [{
 "title": {"text": "bₚ-532", "orient": "bottom", "anchor": "middle", "dx": -20, "offset": 8},
 "vconcat": [{
 "title": {"text": "σₜ (kg m⁻³)", "orient": "top", "anchor": "middle", "dx": -18, "offset": 10},
 "columns": 4,
 "bounds": "flush",
 "spacing": {"row": 10, "column": 6},
 "concat": [
   {"width": 259, "height": 405, "resolve": {"scale": {"x": "independent"}, "axis": {"x": "independent", "y": "independent"}},
    "layer": [
     {"data": {"name": "bp"}, "transform": [{"filter": "datum.p=='a'"}, {"fold": ["l", "b", "h"], "as": ["k", "v"]}], "mark": {"type": "point", "shape": "cross", "filled": true, "size": 40, "color": "#8c8c8c", "opacity": 1, "clip": true},
      "encoding": {"x": {"field": "v", "type": "quantitative", "scale": {"domain": [0, 6], "nice": false, "zero": false}, "axis": null}, "y": {"field": "d", "type": "quantitative", "scale": {"domain": [0, 7.95], "reverse": true, "nice": false, "zero": false}, "axis": null}}},
     {"data": {"name": "sg"}, "transform": [{"filter": "datum.p=='a'"}], "mark": {"type": "line", "color": "#8c8c8c", "strokeWidth": 1.2, "strokeDash": [5, 2, 1.5, 2], "clip": true},
      "encoding": {"x": {"field": "s", "type": "quantitative", "scale": {"domain": [22.3, 23], "nice": false, "zero": false}, "axis": {"orient": "top", "title": null, "values": [22.3, 22.4, 22.5, 22.6, 22.7, 22.8, 22.9, 23], "format": ".1f", "labelExpr": "datum.label=='23.0'?'23':((datum.label=='22.4'||datum.label=='22.6'||datum.label=='22.8')?datum.label:'')", "labels": true, "labelPadding": 15}},
       "y": {"field": "d", "type": "quantitative", "scale": {"domain": [0, 7.95], "reverse": true, "nice": false, "zero": false}, "axis": {"orient": "left", "title": null, "values": [0, 1, 2, 3, 4, 5, 6, 7], "labelExpr": "(datum.value%2==0)?datum.label:''", "labels": true, "labelPadding": 12}},
       "order": {"field": "d"}}},
     {"data": {"name": "bp"}, "transform": [{"filter": "datum.p=='a'"}], "mark": {"type": "line", "color": "black", "strokeWidth": 2, "clip": true},
      "encoding": {"x": {"field": "b", "type": "quantitative", "scale": {"domain": [0, 6], "nice": false, "zero": false}, "axis": {"orient": "bottom", "title": null, "values": [1, 2, 3, 4, 5], "labels": false}},
       "y": {"field": "d", "type": "quantitative", "scale": {"domain": [0, 7.95], "reverse": true, "nice": false, "zero": false}, "axis": {"orient": "right", "title": null, "values": [1, 2, 3, 4, 5, 6, 7], "labels": false}},
       "order": {"field": "d"}}},
     {"data": {"name": "arr"}, "mark": {"type": "rule", "color": "black", "strokeWidth": 1},
      "encoding": {"x": {"field": "x1", "type": "quantitative", "scale": {"domain": [0, 6], "nice": false, "zero": false}, "axis": null}, "x2": {"field": "x2"}, "y": {"field": "y1", "type": "quantitative", "scale": {"domain": [0, 7.95], "reverse": true, "nice": false, "zero": false}, "axis": null}, "y2": {"field": "y2"}}},
     {"data": {"name": "arr"}, "mark": {"type": "point", "shape": "M-0.45,0.8L0,0L0.45,0.8", "filled": false, "size": 90, "color": "black", "strokeWidth": 1, "opacity": 1},
      "encoding": {"x": {"field": "x2", "type": "quantitative", "scale": {"domain": [0, 6], "nice": false, "zero": false}, "axis": null}, "y": {"field": "y2", "type": "quantitative", "scale": {"domain": [0, 7.95], "reverse": true, "nice": false, "zero": false}, "axis": null}, "angle": {"field": "ang", "type": "quantitative", "scale": null}}},
     {"data": {"name": "lab"}, "transform": [{"filter": "datum.p=='a'"}], "mark": {"type": "point", "shape": "square", "size": 784, "filled": true, "fill": "white", "stroke": "black", "strokeWidth": 2.5, "opacity": 1},
      "encoding": {"x": {"datum": 0.32, "type": "quantitative", "scale": {"domain": [0, 6], "nice": false, "zero": false}, "axis": null}, "y": {"datum": 0.265, "type": "quantitative", "scale": {"domain": [0, 7.95], "reverse": true, "nice": false, "zero": false}, "axis": null}}},
     {"data": {"name": "lab"}, "transform": [{"filter": "datum.p=='a'"}], "mark": {"type": "text", "fontSize": 25, "font": "Liberation Sans", "align": "center", "baseline": "middle", "color": "black"},
      "encoding": {"x": {"datum": 0.32, "type": "quantitative", "scale": {"domain": [0, 6], "nice": false, "zero": false}, "axis": null}, "y": {"datum": 0.23, "type": "quantitative", "scale": {"domain": [0, 7.95], "reverse": true, "nice": false, "zero": false}, "axis": null}, "text": {"field": "p"}}},
     {"data": {"name": "lab"}, "transform": [{"filter": "datum.p=='a'"}], "mark": {"type": "text", "fontSize": 24.5, "font": "Liberation Sans", "align": "center", "baseline": "middle", "color": "black"},
      "encoding": {"x": {"datum": 4.2, "type": "quantitative", "scale": {"domain": [0, 6], "nice": false, "zero": false}, "axis": null}, "y": {"datum": 1.15, "type": "quantitative", "scale": {"domain": [0, 7.95], "reverse": true, "nice": false, "zero": false}, "axis": null}, "text": {"field": "t"}}}
    ]},
   {"width": 259, "height": 405, "resolve": {"scale": {"x": "independent"}, "axis": {"x": "independent", "y": "independent"}},
    "layer": [
     {"data": {"name": "bp"}, "transform": [{"filter": "datum.p=='b'"}, {"fold": ["l", "b", "h"], "as": ["k", "v"]}], "mark": {"type": "point", "shape": "cross", "filled": true, "size": 40, "color": "#8c8c8c", "opacity": 1, "clip": true},
      "encoding": {"x": {"field": "v", "type": "quantitative", "scale": {"domain": [0, 6], "nice": false, "zero": false}, "axis": null}, "y": {"field": "d", "type": "quantitative", "scale": {"domain": [0, 7.95], "reverse": true, "nice": false, "zero": false}, "axis": null}}},
     {"data": {"name": "sg"}, "transform": [{"filter": "datum.p=='b'"}], "mark": {"type": "line", "color": "#8c8c8c", "strokeWidth": 1.2, "strokeDash": [5, 2, 1.5, 2], "clip": true},
      "encoding": {"x": {"field": "s", "type": "quantitative", "scale": {"domain": [22.3, 23], "nice": false, "zero": false}, "axis": {"orient": "top", "title": null, "values": [22.3, 22.4, 22.5, 22.6, 22.7, 22.8, 22.9, 23], "format": ".1f", "labelExpr": "datum.label=='23.0'?'23':((datum.label=='22.4'||datum.label=='22.6'||datum.label=='22.8')?datum.label:'')", "labels": true, "labelPadding": 15}},
       "y": {"field": "d", "type": "quantitative", "scale": {"domain": [0, 7.95], "reverse": true, "nice": false, "zero": false}, "axis": {"orient": "left", "title": null, "values": [0, 1, 2, 3, 4, 5, 6, 7], "labels": false}},
       "order": {"field": "d"}}},
     {"data": {"name": "bp"}, "transform": [{"filter": "datum.p=='b'"}], "mark": {"type": "line", "color": "black", "strokeWidth": 2, "clip": true},
      "encoding": {"x": {"field": "b", "type": "quantitative", "scale": {"domain": [0, 6], "nice": false, "zero": false}, "axis": {"orient": "bottom", "title": null, "values": [1, 2, 3, 4, 5], "labels": false}},
       "y": {"field": "d", "type": "quantitative", "scale": {"domain": [0, 7.95], "reverse": true, "nice": false, "zero": false}, "axis": {"orient": "right", "title": null, "values": [1, 2, 3, 4, 5, 6, 7], "labels": false}},
       "order": {"field": "d"}}},
     {"data": {"name": "lab"}, "transform": [{"filter": "datum.p=='b'"}], "mark": {"type": "point", "shape": "square", "size": 784, "filled": true, "fill": "white", "stroke": "black", "strokeWidth": 2.5, "opacity": 1},
      "encoding": {"x": {"datum": 0.32, "type": "quantitative", "scale": {"domain": [0, 6], "nice": false, "zero": false}, "axis": null}, "y": {"datum": 0.265, "type": "quantitative", "scale": {"domain": [0, 7.95], "reverse": true, "nice": false, "zero": false}, "axis": null}}},
     {"data": {"name": "lab"}, "transform": [{"filter": "datum.p=='b'"}], "mark": {"type": "text", "fontSize": 25, "font": "Liberation Sans", "align": "center", "baseline": "middle", "color": "black"},
      "encoding": {"x": {"datum": 0.32, "type": "quantitative", "scale": {"domain": [0, 6], "nice": false, "zero": false}, "axis": null}, "y": {"datum": 0.23, "type": "quantitative", "scale": {"domain": [0, 7.95], "reverse": true, "nice": false, "zero": false}, "axis": null}, "text": {"field": "p"}}},
     {"data": {"name": "lab"}, "transform": [{"filter": "datum.p=='b'"}], "mark": {"type": "text", "fontSize": 24.5, "font": "Liberation Sans", "align": "center", "baseline": "middle", "color": "black"},
      "encoding": {"x": {"datum": 4.2, "type": "quantitative", "scale": {"domain": [0, 6], "nice": false, "zero": false}, "axis": null}, "y": {"datum": 1.15, "type": "quantitative", "scale": {"domain": [0, 7.95], "reverse": true, "nice": false, "zero": false}, "axis": null}, "text": {"field": "t"}}}
    ]},
   {"width": 259, "height": 405, "view": {"stroke": "#777777", "strokeWidth": 1.2}, "resolve": {"scale": {"x": "independent"}, "axis": {"x": "independent", "y": "independent"}},
    "layer": [
     {"data": {"name": "bp"}, "transform": [{"filter": "datum.p=='c'"}, {"fold": ["l", "b", "h"], "as": ["k", "v"]}], "mark": {"type": "point", "shape": "cross", "filled": true, "size": 40, "color": "#8c8c8c", "opacity": 1, "clip": true},
      "encoding": {"x": {"field": "v", "type": "quantitative", "scale": {"domain": [0, 6], "nice": false, "zero": false}, "axis": null}, "y": {"field": "d", "type": "quantitative", "scale": {"domain": [0, 7.95], "reverse": true, "nice": false, "zero": false}, "axis": null}}},
     {"data": {"name": "sg"}, "transform": [{"filter": "datum.p=='c'"}], "mark": {"type": "line", "color": "#8c8c8c", "strokeWidth": 1.2, "strokeDash": [5, 2, 1.5, 2], "clip": true},
      "encoding": {"x": {"field": "s", "type": "quantitative", "scale": {"domain": [22.3, 23], "nice": false, "zero": false}, "axis": {"orient": "top", "title": null, "values": [22.3, 22.4, 22.5, 22.6, 22.7, 22.8, 22.9, 23], "format": ".1f", "labelExpr": "datum.label=='23.0'?'23':((datum.label=='22.4'||datum.label=='22.6'||datum.label=='22.8')?datum.label:'')", "labels": true, "labelPadding": 15}},
       "y": {"field": "d", "type": "quantitative", "scale": {"domain": [0, 7.95], "reverse": true, "nice": false, "zero": false}, "axis": {"orient": "left", "title": null, "values": [0, 1, 2, 3, 4, 5, 6, 7], "labels": false}},
       "order": {"field": "d"}}},
     {"data": {"name": "bp"}, "transform": [{"filter": "datum.p=='c'"}], "mark": {"type": "line", "color": "black", "strokeWidth": 2, "clip": true},
      "encoding": {"x": {"field": "b", "type": "quantitative", "scale": {"domain": [0, 6], "nice": false, "zero": false}, "axis": {"orient": "bottom", "title": null, "values": [1, 2, 3, 4, 5], "labels": false}},
       "y": {"field": "d", "type": "quantitative", "scale": {"domain": [0, 7.95], "reverse": true, "nice": false, "zero": false}, "axis": {"orient": "right", "title": null, "values": [1, 2, 3, 4, 5, 6, 7], "labels": false}},
       "order": {"field": "d"}}},
     {"data": {"name": "lab"}, "transform": [{"filter": "datum.p=='c'"}], "mark": {"type": "point", "shape": "square", "size": 784, "filled": true, "fill": "white", "stroke": "black", "strokeWidth": 2.5, "opacity": 1},
      "encoding": {"x": {"datum": 0.32, "type": "quantitative", "scale": {"domain": [0, 6], "nice": false, "zero": false}, "axis": null}, "y": {"datum": 0.265, "type": "quantitative", "scale": {"domain": [0, 7.95], "reverse": true, "nice": false, "zero": false}, "axis": null}}},
     {"data": {"name": "lab"}, "transform": [{"filter": "datum.p=='c'"}], "mark": {"type": "text", "fontSize": 25, "font": "Liberation Sans", "align": "center", "baseline": "middle", "color": "black"},
      "encoding": {"x": {"datum": 0.32, "type": "quantitative", "scale": {"domain": [0, 6], "nice": false, "zero": false}, "axis": null}, "y": {"datum": 0.23, "type": "quantitative", "scale": {"domain": [0, 7.95], "reverse": true, "nice": false, "zero": false}, "axis": null}, "text": {"field": "p"}}},
     {"data": {"name": "lab"}, "transform": [{"filter": "datum.p=='c'"}], "mark": {"type": "text", "fontSize": 24.5, "font": "Liberation Sans", "align": "center", "baseline": "middle", "color": "black"},
      "encoding": {"x": {"datum": 4.2, "type": "quantitative", "scale": {"domain": [0, 6], "nice": false, "zero": false}, "axis": null}, "y": {"datum": 1.15, "type": "quantitative", "scale": {"domain": [0, 7.95], "reverse": true, "nice": false, "zero": false}, "axis": null}, "text": {"field": "t"}}}
    ]},
   {"width": 259, "height": 405, "resolve": {"scale": {"x": "independent"}, "axis": {"x": "independent", "y": "independent"}},
    "layer": [
     {"data": {"name": "bp"}, "transform": [{"filter": "datum.p=='d'"}, {"fold": ["l", "b", "h"], "as": ["k", "v"]}], "mark": {"type": "point", "shape": "cross", "filled": true, "size": 40, "color": "#8c8c8c", "opacity": 1, "clip": true},
      "encoding": {"x": {"field": "v", "type": "quantitative", "scale": {"domain": [0, 6], "nice": false, "zero": false}, "axis": null}, "y": {"field": "d", "type": "quantitative", "scale": {"domain": [0, 7.95], "reverse": true, "nice": false, "zero": false}, "axis": null}}},
     {"data": {"name": "sg"}, "transform": [{"filter": "datum.p=='d'"}], "mark": {"type": "line", "color": "#8c8c8c", "strokeWidth": 1.2, "strokeDash": [5, 2, 1.5, 2], "clip": true},
      "encoding": {"x": {"field": "s", "type": "quantitative", "scale": {"domain": [22.3, 23], "nice": false, "zero": false}, "axis": {"orient": "top", "title": null, "values": [22.3, 22.4, 22.5, 22.6, 22.7, 22.8, 22.9, 23], "format": ".1f", "labelExpr": "datum.label=='23.0'?'23':((datum.label=='22.4'||datum.label=='22.6'||datum.label=='22.8')?datum.label:'')", "labels": true, "labelPadding": 15}},
       "y": {"field": "d", "type": "quantitative", "scale": {"domain": [0, 7.95], "reverse": true, "nice": false, "zero": false}, "axis": {"orient": "left", "title": null, "values": [0, 1, 2, 3, 4, 5, 6, 7], "labels": false}},
       "order": {"field": "d"}}},
     {"data": {"name": "bp"}, "transform": [{"filter": "datum.p=='d'"}], "mark": {"type": "line", "color": "black", "strokeWidth": 2, "clip": true},
      "encoding": {"x": {"field": "b", "type": "quantitative", "scale": {"domain": [0, 6], "nice": false, "zero": false}, "axis": {"orient": "bottom", "title": null, "values": [1, 2, 3, 4, 5], "labels": false}},
       "y": {"field": "d", "type": "quantitative", "scale": {"domain": [0, 7.95], "reverse": true, "nice": false, "zero": false}, "axis": {"orient": "right", "title": null, "values": [1, 2, 3, 4, 5, 6, 7], "labels": false}},
       "order": {"field": "d"}}},
     {"data": {"name": "lab"}, "transform": [{"filter": "datum.p=='d'"}], "mark": {"type": "point", "shape": "square", "size": 784, "filled": true, "fill": "white", "stroke": "black", "strokeWidth": 2.5, "opacity": 1},
      "encoding": {"x": {"datum": 0.32, "type": "quantitative", "scale": {"domain": [0, 6], "nice": false, "zero": false}, "axis": null}, "y": {"datum": 0.265, "type": "quantitative", "scale": {"domain": [0, 7.95], "reverse": true, "nice": false, "zero": false}, "axis": null}}},
     {"data": {"name": "lab"}, "transform": [{"filter": "datum.p=='d'"}], "mark": {"type": "text", "fontSize": 25, "font": "Liberation Sans", "align": "center", "baseline": "middle", "color": "black"},
      "encoding": {"x": {"datum": 0.32, "type": "quantitative", "scale": {"domain": [0, 6], "nice": false, "zero": false}, "axis": null}, "y": {"datum": 0.23, "type": "quantitative", "scale": {"domain": [0, 7.95], "reverse": true, "nice": false, "zero": false}, "axis": null}, "text": {"field": "p"}}},
     {"data": {"name": "lab"}, "transform": [{"filter": "datum.p=='d'"}], "mark": {"type": "text", "fontSize": 24.5, "font": "Liberation Sans", "align": "center", "baseline": "middle", "color": "black"},
      "encoding": {"x": {"datum": 4.2, "type": "quantitative", "scale": {"domain": [0, 6], "nice": false, "zero": false}, "axis": null}, "y": {"datum": 1.15, "type": "quantitative", "scale": {"domain": [0, 7.95], "reverse": true, "nice": false, "zero": false}, "axis": null}, "text": {"field": "t"}}}
    ]},
   {"width": 259, "height": 405, "resolve": {"scale": {"x": "independent"}, "axis": {"x": "independent", "y": "independent"}},
    "layer": [
     {"data": {"name": "bp"}, "transform": [{"filter": "datum.p=='e'"}, {"fold": ["l", "b", "h"], "as": ["k", "v"]}], "mark": {"type": "point", "shape": "cross", "filled": true, "size": 40, "color": "#8c8c8c", "opacity": 1, "clip": true},
      "encoding": {"x": {"field": "v", "type": "quantitative", "scale": {"domain": [0, 6], "nice": false, "zero": false}, "axis": null}, "y": {"field": "d", "type": "quantitative", "scale": {"domain": [0, 7.95], "reverse": true, "nice": false, "zero": false}, "axis": null}}},
     {"data": {"name": "sg"}, "transform": [{"filter": "datum.p=='e'"}], "mark": {"type": "line", "color": "#8c8c8c", "strokeWidth": 1.2, "strokeDash": [5, 2, 1.5, 2], "clip": true},
      "encoding": {"x": {"field": "s", "type": "quantitative", "scale": {"domain": [22.3, 23], "nice": false, "zero": false}, "axis": {"orient": "top", "title": null, "values": [22.4, 22.5, 22.6, 22.7, 22.8, 22.9], "labels": false}},
       "y": {"field": "d", "type": "quantitative", "scale": {"domain": [0, 7.95], "reverse": true, "nice": false, "zero": false}, "axis": {"orient": "left", "title": null, "values": [0, 1, 2, 3, 4, 5, 6, 7], "labelExpr": "(datum.value%2==0)?datum.label:''", "labels": true, "labelPadding": 12}},
       "order": {"field": "d"}}},
     {"data": {"name": "bp"}, "transform": [{"filter": "datum.p=='e'"}], "mark": {"type": "line", "color": "black", "strokeWidth": 2, "clip": true},
      "encoding": {"x": {"field": "b", "type": "quantitative", "scale": {"domain": [0, 6], "nice": false, "zero": false}, "axis": {"orient": "bottom", "title": null, "values": [1, 2, 3, 4, 5], "labelExpr": "(datum.value==1||datum.value==3||datum.value==5)?datum.label:''", "labels": true, "labelPadding": 15}},
       "y": {"field": "d", "type": "quantitative", "scale": {"domain": [0, 7.95], "reverse": true, "nice": false, "zero": false}, "axis": {"orient": "right", "title": null, "values": [1, 2, 3, 4, 5, 6, 7], "labels": false}},
       "order": {"field": "d"}}},
     {"data": {"name": "lab"}, "transform": [{"filter": "datum.p=='e'"}], "mark": {"type": "point", "shape": "square", "size": 784, "filled": true, "fill": "white", "stroke": "black", "strokeWidth": 2.5, "opacity": 1},
      "encoding": {"x": {"datum": 0.32, "type": "quantitative", "scale": {"domain": [0, 6], "nice": false, "zero": false}, "axis": null}, "y": {"datum": 0.265, "type": "quantitative", "scale": {"domain": [0, 7.95], "reverse": true, "nice": false, "zero": false}, "axis": null}}},
     {"data": {"name": "lab"}, "transform": [{"filter": "datum.p=='e'"}], "mark": {"type": "text", "fontSize": 25, "font": "Liberation Sans", "align": "center", "baseline": "middle", "color": "black"},
      "encoding": {"x": {"datum": 0.32, "type": "quantitative", "scale": {"domain": [0, 6], "nice": false, "zero": false}, "axis": null}, "y": {"datum": 0.23, "type": "quantitative", "scale": {"domain": [0, 7.95], "reverse": true, "nice": false, "zero": false}, "axis": null}, "text": {"field": "p"}}},
     {"data": {"name": "lab"}, "transform": [{"filter": "datum.p=='e'"}], "mark": {"type": "text", "fontSize": 24.5, "font": "Liberation Sans", "align": "center", "baseline": "middle", "color": "black"},
      "encoding": {"x": {"datum": 4.2, "type": "quantitative", "scale": {"domain": [0, 6], "nice": false, "zero": false}, "axis": null}, "y": {"datum": 1.15, "type": "quantitative", "scale": {"domain": [0, 7.95], "reverse": true, "nice": false, "zero": false}, "axis": null}, "text": {"field": "t"}}}
    ]},
   {"width": 259, "height": 405, "resolve": {"scale": {"x": "independent"}, "axis": {"x": "independent", "y": "independent"}},
    "layer": [
     {"data": {"name": "bp"}, "transform": [{"filter": "datum.p=='f'"}, {"fold": ["l", "b", "h"], "as": ["k", "v"]}], "mark": {"type": "point", "shape": "cross", "filled": true, "size": 40, "color": "#8c8c8c", "opacity": 1, "clip": true},
      "encoding": {"x": {"field": "v", "type": "quantitative", "scale": {"domain": [0, 6], "nice": false, "zero": false}, "axis": null}, "y": {"field": "d", "type": "quantitative", "scale": {"domain": [0, 7.95], "reverse": true, "nice": false, "zero": false}, "axis": null}}},
     {"data": {"name": "sg"}, "transform": [{"filter": "datum.p=='f'"}], "mark": {"type": "line", "color": "#8c8c8c", "strokeWidth": 1.2, "strokeDash": [5, 2, 1.5, 2], "clip": true},
      "encoding": {"x": {"field": "s", "type": "quantitative", "scale": {"domain": [22.3, 23], "nice": false, "zero": false}, "axis": {"orient": "top", "title": null, "values": [22.4, 22.5, 22.6, 22.7, 22.8, 22.9], "labels": false}},
       "y": {"field": "d", "type": "quantitative", "scale": {"domain": [0, 7.95], "reverse": true, "nice": false, "zero": false}, "axis": {"orient": "left", "title": null, "values": [0, 1, 2, 3, 4, 5, 6, 7], "labels": false}},
       "order": {"field": "d"}}},
     {"data": {"name": "bp"}, "transform": [{"filter": "datum.p=='f'"}], "mark": {"type": "line", "color": "black", "strokeWidth": 2, "clip": true},
      "encoding": {"x": {"field": "b", "type": "quantitative", "scale": {"domain": [0, 6], "nice": false, "zero": false}, "axis": {"orient": "bottom", "title": null, "values": [1, 2, 3, 4, 5], "labelExpr": "(datum.value==1||datum.value==3||datum.value==5)?datum.label:''", "labels": true, "labelPadding": 15}},
       "y": {"field": "d", "type": "quantitative", "scale": {"domain": [0, 7.95], "reverse": true, "nice": false, "zero": false}, "axis": {"orient": "right", "title": null, "values": [1, 2, 3, 4, 5, 6, 7], "labels": false}},
       "order": {"field": "d"}}},
     {"data": {"name": "lab"}, "transform": [{"filter": "datum.p=='f'"}], "mark": {"type": "point", "shape": "square", "size": 784, "filled": true, "fill": "white", "stroke": "black", "strokeWidth": 2.5, "opacity": 1},
      "encoding": {"x": {"datum": 0.32, "type": "quantitative", "scale": {"domain": [0, 6], "nice": false, "zero": false}, "axis": null}, "y": {"datum": 0.265, "type": "quantitative", "scale": {"domain": [0, 7.95], "reverse": true, "nice": false, "zero": false}, "axis": null}}},
     {"data": {"name": "lab"}, "transform": [{"filter": "datum.p=='f'"}], "mark": {"type": "text", "fontSize": 25, "font": "Liberation Sans", "align": "center", "baseline": "middle", "color": "black"},
      "encoding": {"x": {"datum": 0.32, "type": "quantitative", "scale": {"domain": [0, 6], "nice": false, "zero": false}, "axis": null}, "y": {"datum": 0.23, "type": "quantitative", "scale": {"domain": [0, 7.95], "reverse": true, "nice": false, "zero": false}, "axis": null}, "text": {"field": "p"}}},
     {"data": {"name": "lab"}, "transform": [{"filter": "datum.p=='f'"}], "mark": {"type": "text", "fontSize": 24.5, "font": "Liberation Sans", "align": "center", "baseline": "middle", "color": "black"},
      "encoding": {"x": {"datum": 4.2, "type": "quantitative", "scale": {"domain": [0, 6], "nice": false, "zero": false}, "axis": null}, "y": {"datum": 1.15, "type": "quantitative", "scale": {"domain": [0, 7.95], "reverse": true, "nice": false, "zero": false}, "axis": null}, "text": {"field": "t"}}}
    ]},
   {"width": 259, "height": 405, "view": {"stroke": "#777777", "strokeWidth": 1.2}, "resolve": {"scale": {"x": "independent"}, "axis": {"x": "independent", "y": "independent"}},
    "layer": [
     {"data": {"name": "bp"}, "transform": [{"filter": "datum.p=='g'"}, {"fold": ["l", "b", "h"], "as": ["k", "v"]}], "mark": {"type": "point", "shape": "cross", "filled": true, "size": 40, "color": "#8c8c8c", "opacity": 1, "clip": true},
      "encoding": {"x": {"field": "v", "type": "quantitative", "scale": {"domain": [0, 6], "nice": false, "zero": false}, "axis": null}, "y": {"field": "d", "type": "quantitative", "scale": {"domain": [0, 7.95], "reverse": true, "nice": false, "zero": false}, "axis": null}}},
     {"data": {"name": "sg"}, "transform": [{"filter": "datum.p=='g'"}], "mark": {"type": "line", "color": "#8c8c8c", "strokeWidth": 1.2, "strokeDash": [5, 2, 1.5, 2], "clip": true},
      "encoding": {"x": {"field": "s", "type": "quantitative", "scale": {"domain": [22.3, 23], "nice": false, "zero": false}, "axis": {"orient": "top", "title": null, "values": [22.4, 22.5, 22.6, 22.7, 22.8, 22.9], "labels": false}},
       "y": {"field": "d", "type": "quantitative", "scale": {"domain": [0, 7.95], "reverse": true, "nice": false, "zero": false}, "axis": {"orient": "left", "title": null, "values": [0, 1, 2, 3, 4, 5, 6, 7], "labels": false}},
       "order": {"field": "d"}}},
     {"data": {"name": "bp"}, "transform": [{"filter": "datum.p=='g'"}], "mark": {"type": "line", "color": "black", "strokeWidth": 2, "clip": true},
      "encoding": {"x": {"field": "b", "type": "quantitative", "scale": {"domain": [0, 6], "nice": false, "zero": false}, "axis": {"orient": "bottom", "title": null, "values": [1, 2, 3, 4, 5], "labelExpr": "(datum.value==1||datum.value==3||datum.value==5)?datum.label:''", "labels": true, "labelPadding": 15}},
       "y": {"field": "d", "type": "quantitative", "scale": {"domain": [0, 7.95], "reverse": true, "nice": false, "zero": false}, "axis": {"orient": "right", "title": null, "values": [1, 2, 3, 4, 5, 6, 7], "labels": false}},
       "order": {"field": "d"}}},
     {"data": {"name": "lab"}, "transform": [{"filter": "datum.p=='g'"}], "mark": {"type": "point", "shape": "square", "size": 784, "filled": true, "fill": "white", "stroke": "black", "strokeWidth": 2.5, "opacity": 1},
      "encoding": {"x": {"datum": 0.32, "type": "quantitative", "scale": {"domain": [0, 6], "nice": false, "zero": false}, "axis": null}, "y": {"datum": 0.265, "type": "quantitative", "scale": {"domain": [0, 7.95], "reverse": true, "nice": false, "zero": false}, "axis": null}}},
     {"data": {"name": "lab"}, "transform": [{"filter": "datum.p=='g'"}], "mark": {"type": "text", "fontSize": 25, "font": "Liberation Sans", "align": "center", "baseline": "middle", "color": "black"},
      "encoding": {"x": {"datum": 0.32, "type": "quantitative", "scale": {"domain": [0, 6], "nice": false, "zero": false}, "axis": null}, "y": {"datum": 0.23, "type": "quantitative", "scale": {"domain": [0, 7.95], "reverse": true, "nice": false, "zero": false}, "axis": null}, "text": {"field": "p"}}},
     {"data": {"name": "lab"}, "transform": [{"filter": "datum.p=='g'"}], "mark": {"type": "text", "fontSize": 24.5, "font": "Liberation Sans", "align": "center", "baseline": "middle", "color": "black"},
      "encoding": {"x": {"datum": 4.2, "type": "quantitative", "scale": {"domain": [0, 6], "nice": false, "zero": false}, "axis": null}, "y": {"datum": 1.15, "type": "quantitative", "scale": {"domain": [0, 7.95], "reverse": true, "nice": false, "zero": false}, "axis": null}, "text": {"field": "t"}}}
    ]},
   {"width": 259, "height": 405, "view": {"stroke": "#777777", "strokeWidth": 1.2}, "resolve": {"scale": {"x": "independent"}, "axis": {"x": "independent", "y": "independent"}},
    "layer": [
     {"data": {"name": "bp"}, "transform": [{"filter": "datum.p=='h'"}, {"fold": ["l", "b", "h"], "as": ["k", "v"]}], "mark": {"type": "point", "shape": "cross", "filled": true, "size": 40, "color": "#8c8c8c", "opacity": 1, "clip": true},
      "encoding": {"x": {"field": "v", "type": "quantitative", "scale": {"domain": [0, 6], "nice": false, "zero": false}, "axis": null}, "y": {"field": "d", "type": "quantitative", "scale": {"domain": [0, 7.95], "reverse": true, "nice": false, "zero": false}, "axis": null}}},
     {"data": {"name": "sg"}, "transform": [{"filter": "datum.p=='h'"}], "mark": {"type": "line", "color": "#8c8c8c", "strokeWidth": 1.2, "strokeDash": [5, 2, 1.5, 2], "clip": true},
      "encoding": {"x": {"field": "s", "type": "quantitative", "scale": {"domain": [22.3, 23], "nice": false, "zero": false}, "axis": {"orient": "top", "title": null, "values": [22.4, 22.5, 22.6, 22.7, 22.8, 22.9], "labels": false}},
       "y": {"field": "d", "type": "quantitative", "scale": {"domain": [0, 7.95], "reverse": true, "nice": false, "zero": false}, "axis": {"orient": "left", "title": null, "values": [0, 1, 2, 3, 4, 5, 6, 7], "labels": false}},
       "order": {"field": "d"}}},
     {"data": {"name": "bp"}, "transform": [{"filter": "datum.p=='h'"}], "mark": {"type": "line", "color": "black", "strokeWidth": 2, "clip": true},
      "encoding": {"x": {"field": "b", "type": "quantitative", "scale": {"domain": [0, 6], "nice": false, "zero": false}, "axis": {"orient": "bottom", "title": null, "values": [1, 2, 3, 4, 5], "labelExpr": "(datum.value==1||datum.value==3||datum.value==5)?datum.label:''", "labels": true, "labelPadding": 15}},
       "y": {"field": "d", "type": "quantitative", "scale": {"domain": [0, 7.95], "reverse": true, "nice": false, "zero": false}, "axis": {"orient": "right", "title": null, "values": [1, 2, 3, 4, 5, 6, 7], "labels": false}},
       "order": {"field": "d"}}},
     {"data": {"name": "lab"}, "transform": [{"filter": "datum.p=='h'"}], "mark": {"type": "point", "shape": "square", "size": 784, "filled": true, "fill": "white", "stroke": "black", "strokeWidth": 2.5, "opacity": 1},
      "encoding": {"x": {"datum": 0.32, "type": "quantitative", "scale": {"domain": [0, 6], "nice": false, "zero": false}, "axis": null}, "y": {"datum": 0.265, "type": "quantitative", "scale": {"domain": [0, 7.95], "reverse": true, "nice": false, "zero": false}, "axis": null}}},
     {"data": {"name": "lab"}, "transform": [{"filter": "datum.p=='h'"}], "mark": {"type": "text", "fontSize": 25, "font": "Liberation Sans", "align": "center", "baseline": "middle", "color": "black"},
      "encoding": {"x": {"datum": 0.32, "type": "quantitative", "scale": {"domain": [0, 6], "nice": false, "zero": false}, "axis": null}, "y": {"datum": 0.23, "type": "quantitative", "scale": {"domain": [0, 7.95], "reverse": true, "nice": false, "zero": false}, "axis": null}, "text": {"field": "p"}}},
     {"data": {"name": "lab"}, "transform": [{"filter": "datum.p=='h'"}], "mark": {"type": "text", "fontSize": 24.5, "font": "Liberation Sans", "align": "center", "baseline": "middle", "color": "black"},
      "encoding": {"x": {"datum": 4.2, "type": "quantitative", "scale": {"domain": [0, 6], "nice": false, "zero": false}, "axis": null}, "y": {"datum": 1.15, "type": "quantitative", "scale": {"domain": [0, 7.95], "reverse": true, "nice": false, "zero": false}, "axis": null}, "text": {"field": "t"}}}
    ]}
 ]
 }]
}]
}
